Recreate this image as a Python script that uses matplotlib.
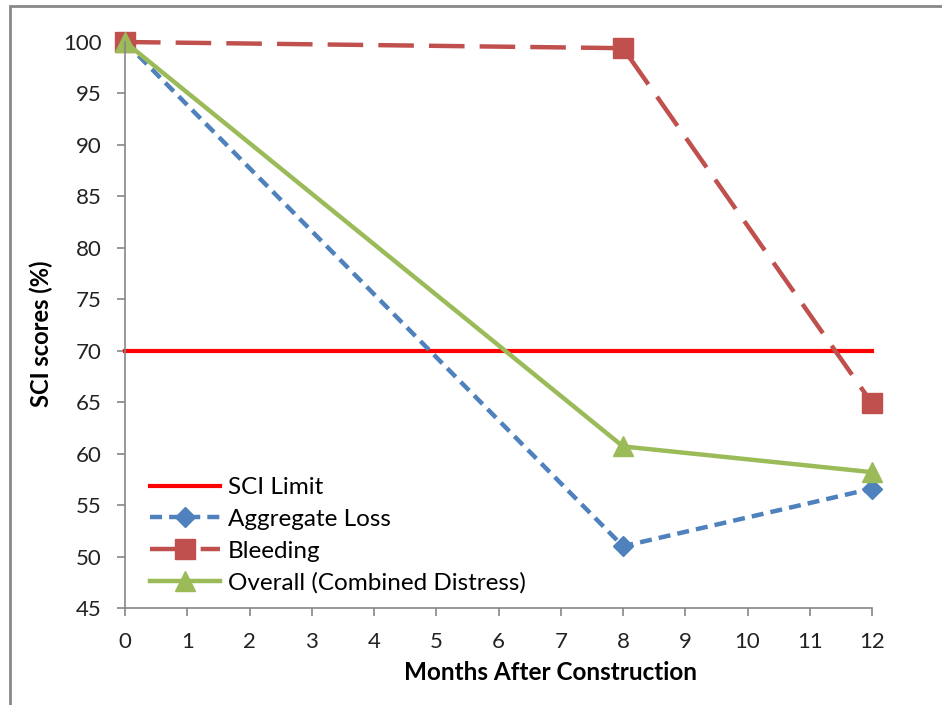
import matplotlib
matplotlib.use("Agg")
import matplotlib.pyplot as plt
from matplotlib.patches import Rectangle

# data
months = [0, 8, 12]
sci_limit_x = [0, 12]
sci_limit = [70, 70]
aggregate_loss = [100, 51.0, 56.6]
bleeding = [100, 99.4, 64.9]
overall = [100, 60.7, 58.2]

x_ticks = list(range(0, 13))
y_ticks = list(range(45, 101, 5))

plt.rcParams['font.family'] = ['Lato', 'DejaVu Sans']

fig = plt.figure(figsize=(9.42, 7.05), dpi=100)
ax = fig.add_axes([125 / 942, 1 - 608 / 705, (872 - 125) / 942, (608 - 42) / 705])

# chart border (only top/left visible in the crop)
fig.patches.append(Rectangle((10 / 942, -0.1), 1.2, 1 - 6 / 705 + 0.1,
                             transform=fig.transFigure, fill=False,
                             edgecolor='#888888', linewidth=2))

ax.plot(sci_limit_x, sci_limit, color='#FF0000', linewidth=3, label='SCI Limit')
ax.plot(months, aggregate_loss, color='#4F81BD', linewidth=3.2, dashes=(2.7, 1.6),
        marker='D', markersize=10, label='Aggregate Loss')
ax.plot(months, bleeding, color='#C0504D', linewidth=3.2, dashes=(8, 3.4),
        marker='s', markersize=14, label='Bleeding')
ax.plot(months, overall, color='#9BBB59', linewidth=3.2,
        marker='^', markersize=15, label='Overall (Combined Distress)')

ax.set_xlim(0, 12)
ax.set_ylim(45, 100)
ax.set_xticks(x_ticks)
ax.set_yticks(y_ticks)
for s in ['top', 'right']:
    ax.spines[s].set_visible(False)
for s in ['left', 'bottom']:
    ax.spines[s].set_color('#868686')
    ax.spines[s].set_linewidth(1.2)
ax.tick_params(axis='both', colors='#868686', labelcolor='#222222',
               labelsize=16, length=6, width=1.2, direction='out')
ax.tick_params(axis='y', pad=11)
ax.tick_params(axis='x', pad=11)
for lbl in ax.get_xticklabels() + ax.get_yticklabels():
    lbl.set_clip_on(False)
for line in ax.get_lines():
    line.set_clip_on(False)

ax.set_xlabel('Months After Construction', fontsize=17.5, fontweight='bold')
ax.set_ylabel('SCI scores (%)', fontsize=17, fontweight='bold')
ax.xaxis.set_label_coords(0.57, -0.093)
ax.yaxis.set_label_coords(-0.096, 0.484)

ax.legend(loc='lower left', bbox_to_anchor=(0.033, 0.025), frameon=False,
          fontsize=17.5, handlelength=2.9, labelspacing=0.44, handletextpad=0.33,
          borderaxespad=0, borderpad=0)

fig.savefig('out.png', dpi=100)
